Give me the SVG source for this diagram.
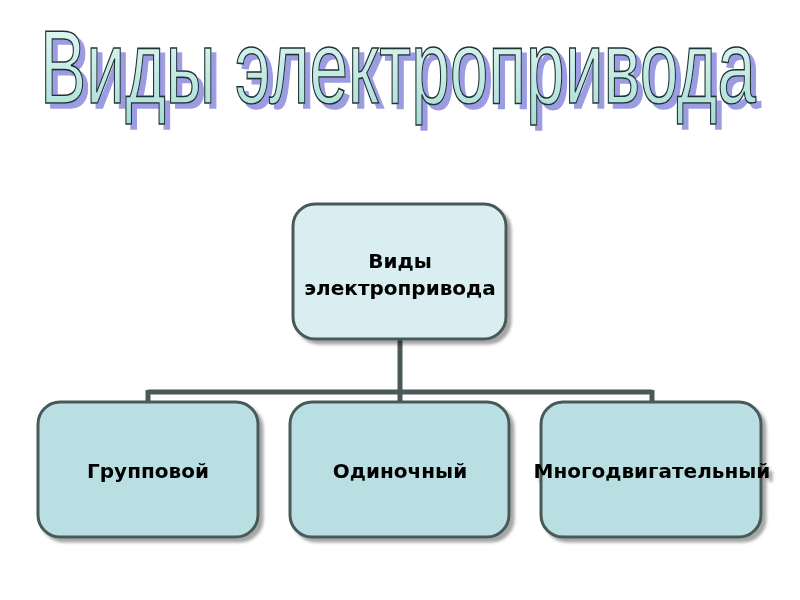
<svg xmlns="http://www.w3.org/2000/svg" width="800" height="600" viewBox="0 0 800 600">
  <defs>
    <linearGradient id="tg" x1="0" y1="0" x2="0" y2="1">
      <stop offset="0" stop-color="#eafcf8"/>
      <stop offset="1" stop-color="#a6dcd6"/>
    </linearGradient>
    <filter id="tsh" x="-5%" y="-20%" width="110%" height="150%">
      <feOffset in="SourceAlpha" dx="5" dy="5" result="o"/>
      <feFlood flood-color="#9c9ce2"/>
      <feComposite in2="o" operator="in"/>
      <feMerge><feMergeNode/><feMergeNode in="SourceGraphic"/></feMerge>
    </filter>
    <filter id="sh" x="-10%" y="-10%" width="130%" height="130%">
      <feGaussianBlur in="SourceAlpha" stdDeviation="1.5"/>
      <feOffset dx="4" dy="4" result="b"/>
      <feFlood flood-color="#000" flood-opacity="0.35"/>
      <feComposite in2="b" operator="in"/>
      <feMerge><feMergeNode/><feMergeNode in="SourceGraphic"/></feMerge>
    </filter>
  </defs>
  <style>
    .title { font-family: "Liberation Sans", Arial, sans-serif; font-size: 104px; }
    .box { stroke: #4a5858; stroke-width: 3; }
    .top { fill: #d9eef0; }
    .bot { fill: #b9dfe3; }
    .lbl { font-family: "DejaVu Sans", Verdana, sans-serif; font-weight: bold; font-size: 20px; fill: #000; text-anchor: middle; }
    .conn { stroke: #4a5858; stroke-width: 5; fill: none; }
  </style>
  <rect width="800" height="600" fill="#fff"/>
  <g id="title" filter="url(#tsh)">
    <text class="title" x="40" y="103" textLength="716" lengthAdjust="spacingAndGlyphs" fill="url(#tg)" stroke="#223333" stroke-width="1.6">Виды электропривода</text>
  </g>
  <g id="connectors">
    <path class="conn" d="M400 339 V392 M148 392 H652 M148 390 V404 M400 390 V404 M652 390 V404"/>
  </g>
  <g id="root" filter="url(#sh)">
    <rect class="box top" x="293" y="204" width="213" height="135" rx="22"/>
    <text class="lbl" x="400" y="268">Виды</text>
    <text class="lbl" x="400" y="295">электропривода</text>
  </g>
  <g id="group" filter="url(#sh)">
    <rect class="box bot" x="38" y="402" width="220" height="135" rx="22"/>
    <text class="lbl" x="148" y="478">Групповой</text>
  </g>
  <g id="single" filter="url(#sh)">
    <rect class="box bot" x="290" y="402" width="219" height="135" rx="22"/>
    <text class="lbl" x="400" y="478">Одиночный</text>
  </g>
  <g id="multi" filter="url(#sh)">
    <rect class="box bot" x="541" y="402" width="220" height="135" rx="22"/>
    <text class="lbl" x="652" y="478">Многодвигательный</text>
  </g>
</svg>
